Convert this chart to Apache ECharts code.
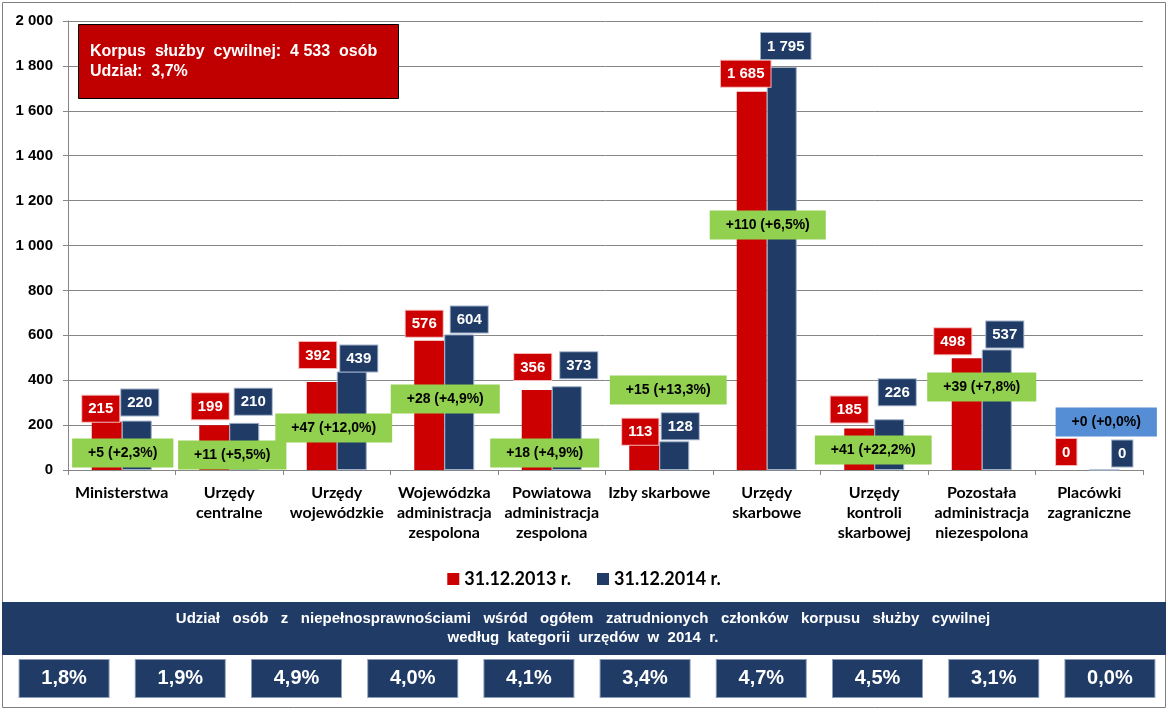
<!DOCTYPE html>
<html><head><meta charset="utf-8">
<script src="https://cdn.jsdelivr.net/npm/echarts@6/dist/echarts.min.js"></script>
<style>html,body{margin:0;padding:0;background:#fff}#c{width:1168px;height:712px}</style>
</head><body><div id="c"></div>
<script>
// ---- data ----
const categories = ['Ministerstwa', 'Urzędy\ncentralne', 'Urzędy\nwojewódzkie', 'Wojewódzka\nadministracja\nzespolona', 'Powiatowa\nadministracja\nzespolona', 'Izby skarbowe', 'Urzędy\nskarbowe', 'Urzędy\nkontroli\nskarbowej', 'Pozostała\nadministracja\nniezespolona', 'Placówki\nzagraniczne'];
const values2013 = [215, 199, 392, 576, 356, 113, 1685, 185, 498, 0];
const values2014 = [220, 210, 439, 604, 373, 128, 1795, 226, 537, 0];
const changeLabels = ['+5 (+2,3%)', '+11 (+5,5%)', '+47 (+12,0%)', '+28 (+4,9%)', '+18 (+4,9%)', '+15 (+13,3%)', '+110 (+6,5%)', '+41 (+22,2%)', '+39 (+7,8%)', '+0 (+0,0%)'];
const disabilityShare = ['1,8%', '1,9%', '4,9%', '4,0%', '4,1%', '3,4%', '4,7%', '4,5%', '3,1%', '0,0%'];
const seriesNames = ['31.12.2013 r.', '31.12.2014 r.'];
const yMin = 0, yMax = 2000, yStep = 200;
const boxTitleLines = ['Korpus  służby  cywilnej:  4 533  osób', 'Udział:  3,7%'];
const bandTitleLines = ['Udział osób z niepełnosprawnościami wśród ogółem zatrudnionych członków korpusu służby cywilnej', 'według kategorii urzędów w 2014 r.'];

// ---- layout (annotation placement; not data) ----
const changeLabelY = [76, 67, 187, 316, 76, 356, 1091, 89, 370, 214];
const changeLabelDX = [1, 3, -3, 1, -7, 9, 1, -1, 0, 17];
const labelDX2013 = [-6, -4, -4, -5, -4, -4, -6, -10, -14, -8];
const labelGap2013 = [0, 6, 14, 4, 10, 0, 5, 6, 4, 5];
const labelDX2014 = [3, 9, 7, 10, 12, 6, 4, 8, 8, 18];
const labelGap2014 = [5, 8, 0, 2, 8, 2, 8, 14, 2, 3];

const RED = '#CC0000', BLUE = '#1F3B66', GREEN = '#92D050', LIGHTBLUE = '#558ED5';
const fmtNum = v => String(v).replace(/\B(?=(\d{3})+$)/g, ' ');

const chart = echarts.init(document.getElementById('c'));
const valueLabel = (bg, border) => ({
  show: true, position: 'top', distance: 0,
  formatter: p => fmtNum(p.value),
  color: '#fff', fontFamily: 'Arial', fontWeight: 'bold', fontSize: 15,
  backgroundColor: bg, borderColor: border, borderWidth: 1, padding: [6, 6, 5, 6]
});
const withNudges = (vals, dx, gap) => vals.map((v, i) => ({ value: v, label: { offset: [dx[i], -gap[i]] } }));

chart.setOption({
  animation: false,
  textStyle: { fontFamily: 'Arial' },
  grid: [
    { left: 68, right: 25, top: 21, bottom: 242, containLabel: false },
    { left: 6, right: -17, top: 660, height: 37, containLabel: false }
  ],
  legend: {
    data: seriesNames, top: 565, left: 'center', itemWidth: 12, itemHeight: 12, itemGap: 26,
    icon: 'rect', itemStyle: { borderWidth: 0 },
    textStyle: { fontFamily: 'Lato', fontWeight: 'bold', fontSize: 18, color: '#000' }
  },
  xAxis: [
    {
      type: 'category', data: categories, gridIndex: 0,
      axisLine: { lineStyle: { color: '#868686' } },
      axisTick: { show: true, length: 5, lineStyle: { color: '#868686' } },
      axisLabel: { interval: 0, margin: 13, color: '#000', fontFamily: 'Lato', fontWeight: 'bold', fontSize: 16, lineHeight: 20 }
    },
    { type: 'category', data: categories, gridIndex: 1, show: false }
  ],
  yAxis: [
    {
      type: 'value', min: yMin, max: yMax, interval: yStep, gridIndex: 0,
      axisLine: { show: true, lineStyle: { color: '#868686' } },
      axisTick: { show: true, length: 5, lineStyle: { color: '#868686' } },
      splitLine: { lineStyle: { color: '#868686' } },
      axisLabel: { formatter: fmtNum, margin: 15, color: '#000', fontFamily: 'Arial', fontWeight: 'bold', fontSize: 15 }
    },
    { type: 'value', min: 0, max: 1, gridIndex: 1, show: false }
  ],
  series: [
    {
      name: seriesNames[0], type: 'bar', data: withNudges(values2013, labelDX2013, labelGap2013), barWidth: 30, barGap: '0%',
      itemStyle: { color: RED },
      label: valueLabel(RED, '#F4B6B6')
    },
    {
      name: seriesNames[1], type: 'bar', data: withNudges(values2014, labelDX2014, labelGap2014), barWidth: 30, barGap: '0%',
      itemStyle: { color: BLUE, borderColor: '#9FB0C8', borderWidth: 1 },
      label: valueLabel(BLUE, '#9FB0C8')
    },
    {
      name: 'change', type: 'scatter', silent: true, z: 10,
      symbolSize: 1, itemStyle: { color: 'transparent', opacity: 1 },
      data: changeLabels.map((t, i) => ({
        value: [i, changeLabelY[i]],
        label: { offset: [changeLabelDX[i], 0], backgroundColor: i === 9 ? LIGHTBLUE : GREEN }
      })),
      label: {
        show: true, position: 'inside', formatter: p => changeLabels[p.dataIndex],
        color: '#000', fontFamily: 'Arial', fontWeight: 'bold', fontSize: 14, lineHeight: 15,
        padding: [7, 16]
      }
    },
    {
      name: 'share', type: 'scatter', silent: true, xAxisIndex: 1, yAxisIndex: 1,
      symbolSize: 1, itemStyle: { color: 'transparent', opacity: 1 },
      data: disabilityShare.map((t, i) => [i, 0.5]),
      label: {
        show: true, position: 'inside', formatter: p => disabilityShare[p.dataIndex],
        color: '#fff', fontFamily: 'Arial', fontWeight: 'bold', fontSize: 20,
        width: 89, height: 37, lineHeight: 37, align: 'center', verticalAlign: 'middle',
        backgroundColor: BLUE, borderColor: '#8C9DB8', borderWidth: 1
      }
    }
  ],
  graphic: [
    { type: 'rect', shape: { x: 2.5, y: 2.5, width: 1163, height: 705 }, style: { fill: 'none', stroke: '#7F7F7F', lineWidth: 1 }, z: 0 },
    { type: 'rect', shape: { x: 2, y: 602, width: 1164, height: 53 }, style: { fill: BLUE }, z: 1 },
    { type: 'text', x: 583, y: 609, z: 2, style: { text: bandTitleLines[0].split(' ').join('   ') + '\n' + bandTitleLines[1].split(' ').join('  '), fill: '#fff', font: 'bold 15px Arial', align: 'center', lineHeight: 19 } },
    { type: 'rect', shape: { x: 78.5, y: 24.5, width: 320, height: 74 }, style: { fill: '#C00000', stroke: '#000', lineWidth: 1 }, z: 20 },
    { type: 'text', x: 90, y: 42, z: 21, style: { text: boxTitleLines.join('\n'), fill: '#fff', font: 'bold 16px Arial', lineHeight: 20 } }
  ]
});
</script></body></html>
